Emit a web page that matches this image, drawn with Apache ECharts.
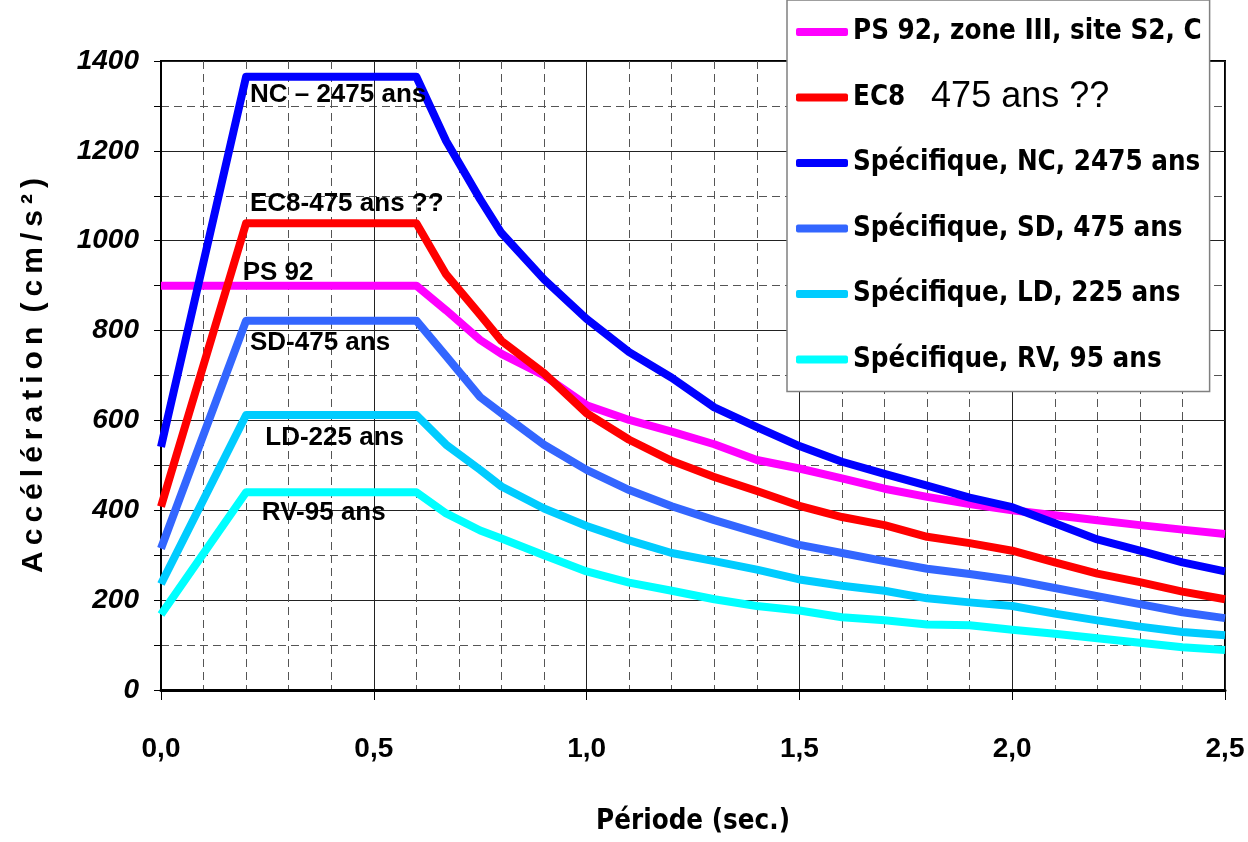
<!DOCTYPE html>
<html>
<head>
<meta charset="utf-8">
<script src="https://cdn.jsdelivr.net/npm/echarts@6/dist/echarts.min.js"></script>
<style>
  html, body { margin: 0; padding: 0; background: #fff; }
  #chart { width: 1248px; height: 842px; }
</style>
</head>
<body>
<div id="chart"></div>
<script>
  // périodes (s) communes à toutes les courbes
  const periods = [0, 0.2, 0.6, 0.67, 0.75, 0.8, 0.9, 1.0, 1.1, 1.2, 1.3, 1.4, 1.5, 1.6, 1.7, 1.8, 1.9, 2.0, 2.1, 2.2, 2.3, 2.4, 2.5]
  const ps92 = [900, 900, 900, 845, 779, 748, 700, 634, 601, 575, 547, 512, 493, 471, 448, 430, 414, 400, 389, 378, 367, 357, 347]
  const ec8 = [408, 1039, 1039, 925, 835, 777, 705, 616, 557, 510, 474, 443, 410, 385, 367, 341, 327, 310, 284, 259, 240, 219, 202]
  const nc = [541, 1365, 1365, 1222, 1092, 1017, 914, 826, 752, 695, 629, 585, 543, 508, 481, 455, 428, 407, 371, 335, 310, 284, 264]
  const sd = [315, 822, 822, 743, 652, 616, 546, 490, 445, 409, 378, 350, 323, 305, 287, 270, 258, 245, 227, 209, 191, 173, 160]
  const ld = [236, 612, 612, 546, 490, 453, 404, 365, 333, 305, 287, 268, 246, 232, 221, 204, 195, 187, 170, 155, 141, 129, 122]
  const rv = [168, 440, 440, 393, 355, 337, 300, 264, 239, 221, 202, 187, 177, 162, 155, 146, 144, 134, 125, 115, 105, 95, 89]

  const seriesNames = [
    'PS 92, zone III, site S2, C',
    'EC8 475 ans ??',
    'Spécifique, NC, 2475 ans',
    'Spécifique, SD, 475 ans',
    'Spécifique, LD, 225 ans',
    'Spécifique, RV, 95 ans',
  ]
  const seriesColors = ['#ff00ff', '#ff0000', '#0000ff', '#3366ff', '#00ccff', '#00ffff']
  const seriesValues = [ps92, ec8, nc, sd, ld, rv]

  // étiquettes dans le graphique
  const annotTexts = ['NC – 2475 ans', 'EC8-475 ans ??', 'PS 92', 'SD-475 ans', 'LD-225 ans', 'RV-95 ans']
  const annotX = [0.209, 0.209, 0.192, 0.209, 0.245, 0.237]
  const annotY = [1324, 1081, 928, 772, 561, 394]

  const narrow = "'DejaVu Sans Condensed', 'Liberation Sans', sans-serif"
  const arial = "'Liberation Sans', Arial, sans-serif"
  const thin = '\u2009'

  const chart = echarts.init(document.getElementById('chart'))

  const lineSeries = seriesNames.map((name, i) => ({
    name: name,
    type: 'line',
    data: periods.map((p, k) => [p, seriesValues[i][k]]),
    symbol: 'none',
    lineStyle: { color: seriesColors[i], width: 8, join: 'round' },
    itemStyle: { color: seriesColors[i] },
    z: 3 + i,
    silent: true,
  }))

  lineSeries.push({
    name: 'annotations',
    type: 'scatter',
    symbolSize: 0,
    silent: true,
    z: 20,
    itemStyle: { opacity: 1 },
    data: annotTexts.map((t, i) => [annotX[i], annotY[i], t]),
    label: {
      show: true,
      position: 'right',
      distance: 0,
      formatter: (p) => p.data[2],
      color: '#000',
      fontFamily: arial,
      fontWeight: 'bold',
      fontSize: 26,
    },
  })

  chart.setOption({
    backgroundColor: '#fff',
    animation: false,
    grid: {
      left: 161, right: 23, top: 61, bottom: 152,
      show: true, borderColor: '#000', borderWidth: 2, backgroundColor: 'transparent',
    },
    legend: {
      data: seriesNames,
      orient: 'vertical',
      left: 787,
      top: 0,
      padding: [12, 8, 12, 9],
      itemGap: 25.5,
      itemWidth: 52,
      itemHeight: 8,
      icon: 'roundRect',
      backgroundColor: '#fff',
      borderColor: '#808080',
      borderWidth: 1.5,
      selectedMode: false,
      formatter: (name) => {
        if (name === seriesNames[1]) return '{b|EC8}   {r|475 ans ??}'
        return name
      },
      textStyle: {
        fontFamily: narrow,
        fontWeight: 'bold',
        fontSize: 27.5,
        lineHeight: 40,
        color: '#000',
        rich: {
          b: { fontFamily: narrow, fontWeight: 'bold', fontSize: 27.5, lineHeight: 40 },
          r: { fontFamily: arial, fontWeight: 'normal', fontSize: 36, lineHeight: 40 },
        },
      },
      z: 30,
    },
    xAxis: {
      type: 'value',
      min: 0,
      max: 2.5,
      interval: 0.5,
      name: 'Période (sec.)',
      nameLocation: 'middle',
      nameGap: 118,
      nameTextStyle: { fontFamily: narrow, fontWeight: 'bold', fontSize: 27.5, color: '#000' },
      axisLine: { show: true, onZero: false, lineStyle: { color: '#000', width: 3 } },
      axisTick: { show: true, length: 10, lineStyle: { color: '#000', width: 1 } },
      axisLabel: {
        margin: 45,
        fontFamily: arial,
        fontWeight: 'bold',
        fontSize: 28,
        color: '#000',
        formatter: (v) => v.toFixed(1).replace('.', ','),
      },
      splitLine: { show: true, lineStyle: { color: '#222', width: 1 } },
      minorTick: { show: false, splitNumber: 5 },
      minorSplitLine: { show: true, lineStyle: { color: '#555', width: 1, type: [8, 5] } },
    },
    yAxis: {
      type: 'value',
      min: 0,
      max: 1400,
      interval: 200,
      name: ['A', 'c', 'c', 'é', 'l', 'é', 'r', 'a', 't', 'i', 'o', 'n'].join(thin) + thin + ' ' + ['(', 'c', 'm', '/', 's', '²', ')'].join(thin),
      nameLocation: 'middle',
      nameGap: 112,
      nameRotate: 90,
      nameTextStyle: { fontFamily: arial, fontWeight: 'bold', fontSize: 30, color: '#000' },
      axisLine: { show: true, onZero: false, lineStyle: { color: '#000', width: 2 } },
      axisTick: { show: true, length: 7, lineStyle: { color: '#000', width: 1 } },
      minorTick: { show: true, splitNumber: 2, length: 7, lineStyle: { color: '#000', width: 1 } },
      axisLabel: {
        margin: 22,
        fontFamily: arial,
        fontWeight: 'bold',
        fontStyle: 'italic',
        fontSize: 28,
        color: '#000',
        formatter: (v) => String(v),
      },
      splitLine: { show: true, lineStyle: { color: '#222', width: 1 } },
      minorSplitLine: { show: true, lineStyle: { color: '#555', width: 1, type: [8, 5] } },
    },
    series: lineSeries,
  })
</script>
</body>
</html>
